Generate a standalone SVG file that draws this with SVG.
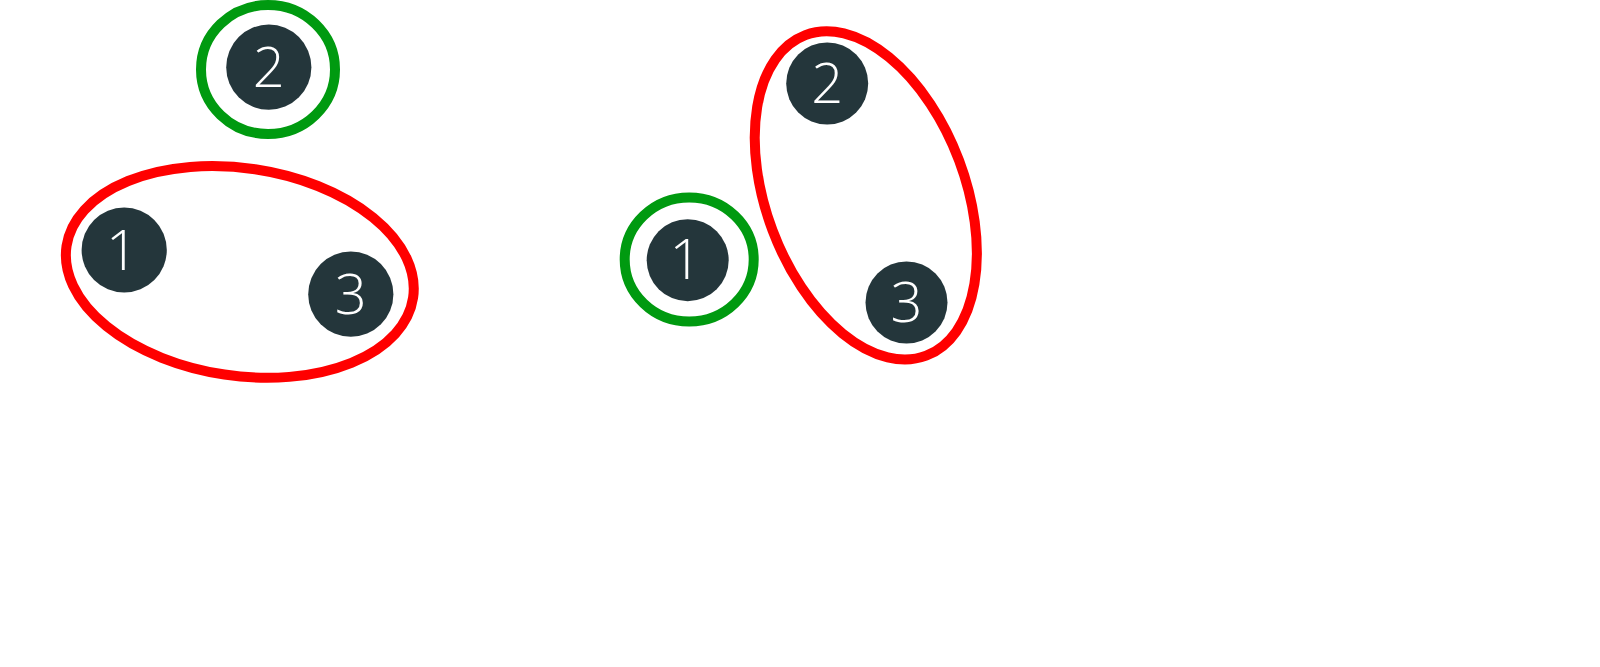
<svg xmlns="http://www.w3.org/2000/svg" width="1600" height="667" viewBox="0 0 1600 667">
<style>
.node{fill:#24363b}
.lbl{fill:#ffffff;font-family:"Open Sans","Noto Sans","Liberation Sans",sans-serif;font-weight:300;font-size:56px;text-anchor:middle}
.red{fill:none;stroke:#ff0000;stroke-width:10}
.green{fill:none;stroke:#009a10;stroke-width:10}
</style>
<rect width="1600" height="667" fill="#ffffff"/>
<g id="groups">
<ellipse id="left-green" class="green" cx="268" cy="69.5" rx="67" ry="64.5"/>
<ellipse id="left-red" class="red" cx="239.8" cy="271.9" rx="175.2" ry="103.8" transform="rotate(8.5 239.8 271.9)"/>
<ellipse id="right-green" class="green" cx="689.2" cy="259.5" rx="64.5" ry="62"/>
<ellipse id="right-red" class="red" cx="865.8" cy="195.4" rx="171.3" ry="99.6" transform="rotate(69.35 865.8 195.4)"/>
</g>
<g id="left-n1"><circle class="node" cx="124.2" cy="250" r="42.6"/><text class="lbl" x="122" y="270">1</text></g>
<g id="left-n2"><circle class="node" cx="268.8" cy="67.2" r="42.6"/><text class="lbl" x="268.8" y="87.3">2</text></g>
<g id="left-n3"><circle class="node" cx="350.8" cy="294.2" r="42.6"/><text class="lbl" x="350.8" y="314.2">3</text></g>
<g id="right-n1"><circle class="node" cx="687.7" cy="260.2" r="41"/><text class="lbl" x="685.5" y="279.3">1</text></g>
<g id="right-n2"><circle class="node" cx="827.2" cy="83.5" r="41"/><text class="lbl" x="827.2" y="102.6">2</text></g>
<g id="right-n3"><circle class="node" cx="906.5" cy="302.5" r="41"/><text class="lbl" x="906.5" y="321.6">3</text></g>
</svg>
